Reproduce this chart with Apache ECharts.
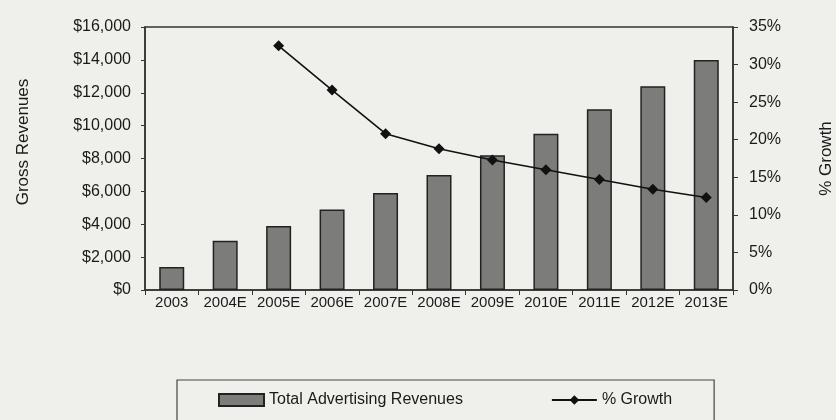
<!DOCTYPE html>
<html><head><meta charset="utf-8">
<script src="https://cdn.jsdelivr.net/npm/echarts@6/dist/echarts.min.js"></script>
<style>html,body{margin:0;padding:0;background:#efefec;}#c{width:836px;height:420px;}</style>
</head><body><div id="c"></div>
<script>
const categories = ['2003','2004E','2005E','2006E','2007E','2008E','2009E','2010E','2011E','2012E','2013E'];
const revenues = [1400, 3000, 3900, 4900, 5900, 7000, 8200, 9500, 11000, 12400, 14000];
const growth = [null, null, 32.5, 26.6, 20.8, 18.8, 17.3, 16.0, 14.7, 13.4, 12.3];
const leftTicks = {min: 0, max: 16000, interval: 2000};
const rightTicks = {min: 0, max: 35, interval: 5};

const chart = echarts.init(document.getElementById('c'));
const txt = {color: '#1a1a1a', fontFamily: 'Liberation Sans, Arial, sans-serif'};
chart.setOption({
  backgroundColor: '#efefec',
  animation: false,
  grid: {left: 145, right: 103, top: 27, bottom: 130, show: true, borderColor: '#333', borderWidth: 1.5,
         backgroundColor: 'transparent', containLabel: false, outerBoundsMode: 'none'},
  legend: {
    left: 177, top: 380,
    padding: [12, 42, 20, 41],
    itemGap: 88,
    borderColor: '#444', borderWidth: 1.2,
    itemWidth: 45, itemHeight: 12,
    textStyle: Object.assign({fontSize: 16}, txt),
    data: [
      {name: 'Total Advertising Revenues', icon: 'rect'},
      {name: '% Growth'}
    ]
  },
  xAxis: {
    type: 'category', data: categories,
    axisLine: {lineStyle: {color: '#333', width: 1.5}},
    axisTick: {show: true, length: 5, lineStyle: {color: '#333'}},
    axisLabel: Object.assign({fontSize: 15, margin: 5, interval: 0}, txt)
  },
  yAxis: [
    {
      type: 'value', min: leftTicks.min, max: leftTicks.max, interval: leftTicks.interval,
      name: 'Gross Revenues', nameLocation: 'middle', nameGap: 113, nameRotate: 90,
      nameTextStyle: Object.assign({fontSize: 17, padding: [0, 0, 0, 33]}, txt),
      axisLine: {show: true, lineStyle: {color: '#333', width: 1.5}},
      axisTick: {show: true, length: 4, lineStyle: {color: '#333'}},
      splitLine: {show: false},
      axisLabel: Object.assign({fontSize: 16, margin: 14, formatter: v => '$' + v.toLocaleString('en-US')}, txt)
    },
    {
      type: 'value', min: rightTicks.min, max: rightTicks.max, interval: rightTicks.interval,
      name: '% Growth', nameLocation: 'middle', nameGap: 85, nameRotate: 90,
      nameTextStyle: Object.assign({fontSize: 17}, txt),
      axisLine: {show: true, lineStyle: {color: '#333', width: 1.5}},
      axisTick: {show: true, length: 5, lineStyle: {color: '#333'}},
      splitLine: {show: false},
      axisLabel: Object.assign({fontSize: 16, margin: 16, formatter: v => v + '%'}, txt)
    }
  ],
  series: [
    {
      name: 'Total Advertising Revenues', type: 'bar', data: revenues, barWidth: 25,
      itemStyle: {color: '#7c7c7a', borderColor: '#222', borderWidth: 1.5}
    },
    {
      name: '% Growth', type: 'line', yAxisIndex: 1, data: growth,
      symbol: 'diamond', symbolSize: 11, connectNulls: false,
      lineStyle: {color: '#111', width: 1.6},
      itemStyle: {color: '#111'}
    }
  ]
});
</script></body></html>
